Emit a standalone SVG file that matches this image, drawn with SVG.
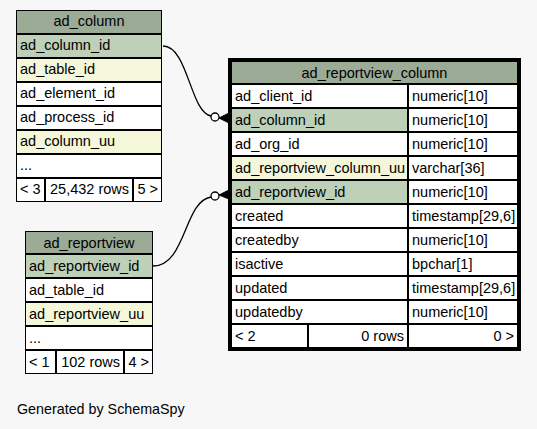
<svg xmlns="http://www.w3.org/2000/svg" width="537" height="429" viewBox="0 0 537 429">
<style>
text{font-family:"Liberation Sans",Arial,sans-serif;font-size:14.5px;fill:#000}
.c{stroke:#000;stroke-width:1}
.h{fill:#9bab96}
.pk{fill:#bed1b8}
.ix{fill:#f4f7da}
.w{fill:#ffffff}
.mid{text-anchor:middle}
.end{text-anchor:end}
.edge{fill:none;stroke:#000;stroke-width:1.3}
</style>
<rect width="537" height="429" fill="#f7f7f7"/>
<g id="connectors">
<path class="edge" d="M163,46 C188,46 190,112 211,116"/>
<circle cx="215" cy="117" r="4" fill="#fff" stroke="#000" stroke-width="1.3"/>
<path d="M219,118 L229,113 L229,123 Z M219,118 L229,118" fill="#000" stroke="#000" stroke-width="1"/>
<path class="edge" d="M153,266 C186,266 184,201 211,197"/>
<circle cx="215" cy="196" r="4" fill="#fff" stroke="#000" stroke-width="1.3"/>
<path d="M219,195 L229,190 L229,199 Z" fill="#000" stroke="#000" stroke-width="1"/>
</g>
<g id="ad_column">
<rect class="c h" x="16.5" y="10.5" width="145" height="23"/>
<text class="mid" x="89" y="26">ad_column</text>
<rect class="c pk" x="16.5" y="34.5" width="145" height="23"/>
<text x="20" y="50">ad_column_id</text>
<rect class="c ix" x="16.5" y="58.5" width="145" height="23"/>
<text x="20" y="74">ad_table_id</text>
<rect class="c w" x="16.5" y="82.5" width="145" height="23"/>
<text x="20" y="98">ad_element_id</text>
<rect class="c w" x="16.5" y="106.5" width="145" height="23"/>
<text x="20" y="122">ad_process_id</text>
<rect class="c ix" x="16.5" y="130.5" width="145" height="23"/>
<text x="20" y="146">ad_column_uu</text>
<rect class="c w" x="16.5" y="154.5" width="145" height="23"/>
<text x="20" y="170">...</text>
<rect class="c w" x="16.5" y="178.5" width="28" height="23"/>
<rect class="c w" x="45.5" y="178.5" width="87" height="23"/>
<rect class="c w" x="133.5" y="178.5" width="28" height="23"/>
<text x="20" y="194">&lt; 3</text>
<text class="end" x="129" y="194">25,432 rows</text>
<text class="end" x="158" y="194">5 &gt;</text>
</g>
<g id="ad_reportview">
<rect class="c h" x="25.5" y="231.5" width="127" height="22"/>
<text class="mid" x="89" y="248">ad_reportview</text>
<rect class="c pk" x="25.5" y="254.5" width="127" height="23"/>
<text x="29" y="271">ad_reportview_id</text>
<rect class="c w" x="25.5" y="278.5" width="127" height="23"/>
<text x="29" y="295">ad_table_id</text>
<rect class="c ix" x="25.5" y="302.5" width="127" height="23"/>
<text x="29" y="319">ad_reportview_uu</text>
<rect class="c w" x="25.5" y="326.5" width="127" height="23"/>
<text x="29" y="343">...</text>
<rect class="c w" x="25.5" y="350.5" width="30" height="23"/>
<rect class="c w" x="56.5" y="350.5" width="67" height="23"/>
<rect class="c w" x="124.5" y="350.5" width="28" height="23"/>
<text x="29" y="367">&lt; 1</text>
<text class="end" x="120" y="367">102 rows</text>
<text class="end" x="149" y="367">4 &gt;</text>
</g>
<g id="ad_reportview_column">
<rect class="c h" x="231.5" y="61.5" width="286" height="22"/>
<text class="mid" x="374.5" y="78">ad_reportview_column</text>
<rect class="c w" x="231.5" y="84.5" width="176" height="23"/><rect class="c w" x="408.5" y="84.5" width="109" height="23"/>
<text x="235" y="101">ad_client_id</text><text x="412" y="101">numeric[10]</text>
<rect class="c pk" x="231.5" y="108.5" width="176" height="23"/><rect class="c w" x="408.5" y="108.5" width="109" height="23"/>
<text x="235" y="125">ad_column_id</text><text x="412" y="125">numeric[10]</text>
<rect class="c w" x="231.5" y="132.5" width="176" height="23"/><rect class="c w" x="408.5" y="132.5" width="109" height="23"/>
<text x="235" y="149">ad_org_id</text><text x="412" y="149">numeric[10]</text>
<rect class="c ix" x="231.5" y="156.5" width="176" height="23"/><rect class="c w" x="408.5" y="156.5" width="109" height="23"/>
<text x="235" y="173">ad_reportview_column_uu</text><text x="412" y="173">varchar[36]</text>
<rect class="c pk" x="231.5" y="180.5" width="176" height="23"/><rect class="c w" x="408.5" y="180.5" width="109" height="23"/>
<text x="235" y="197">ad_reportview_id</text><text x="412" y="197">numeric[10]</text>
<rect class="c w" x="231.5" y="204.5" width="176" height="23"/><rect class="c w" x="408.5" y="204.5" width="109" height="23"/>
<text x="235" y="221">created</text><text x="412" y="221">timestamp[29,6]</text>
<rect class="c w" x="231.5" y="228.5" width="176" height="23"/><rect class="c w" x="408.5" y="228.5" width="109" height="23"/>
<text x="235" y="245">createdby</text><text x="412" y="245">numeric[10]</text>
<rect class="c w" x="231.5" y="252.5" width="176" height="23"/><rect class="c w" x="408.5" y="252.5" width="109" height="23"/>
<text x="235" y="269">isactive</text><text x="412" y="269">bpchar[1]</text>
<rect class="c w" x="231.5" y="276.5" width="176" height="23"/><rect class="c w" x="408.5" y="276.5" width="109" height="23"/>
<text x="235" y="293">updated</text><text x="412" y="293">timestamp[29,6]</text>
<rect class="c w" x="231.5" y="300.5" width="176" height="23"/><rect class="c w" x="408.5" y="300.5" width="109" height="23"/>
<text x="235" y="317">updatedby</text><text x="412" y="317">numeric[10]</text>
<rect class="c w" x="231.5" y="324.5" width="76" height="23"/><rect class="c w" x="308.5" y="324.5" width="99" height="23"/><rect class="c w" x="408.5" y="324.5" width="109" height="23"/>
<text x="235" y="341">&lt; 2</text><text class="end" x="404" y="341">0 rows</text><text class="end" x="514" y="341">0 &gt;</text>
<rect x="229.5" y="59.5" width="290" height="290" fill="none" stroke="#000" stroke-width="3"/>
</g>
<text x="17" y="414" style="font-size:14.3px">Generated by SchemaSpy</text>
</svg>
